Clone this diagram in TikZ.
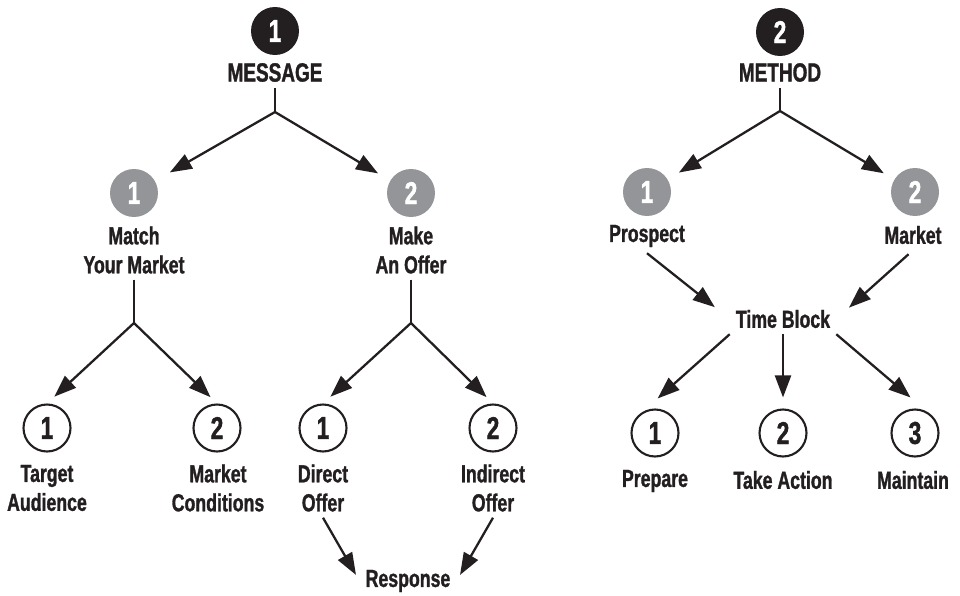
\documentclass[tikz,border=0pt]{standalone}
\usepackage{fontspec}
\setmainfont{Liberation Sans}[FakeStretch=0.72, BoldFeatures={FakeBold=1.2}]
\usetikzlibrary{arrows.meta}
\definecolor{ink}{HTML}{231F20}
\definecolor{stone}{HTML}{939598}
\tikzstyle{lead} = [circle, minimum size=0.96cm, inner sep=0pt, fill=ink, text=white, font=\bfseries\fontsize{18}{18}\selectfont]
\tikzstyle{sub} = [lead, fill=stone]
\tikzstyle{ring} = [circle, minimum size=0.94cm, inner sep=0pt, draw=ink, line width=1.2pt, text=ink, font=\bfseries\fontsize{18}{18}\selectfont]
\tikzstyle{word} = [align=center, text=ink, font=\bfseries\fontsize{14}{16.5}\selectfont]
\tikzstyle{heading} = [word, font=\bfseries\fontsize{15}{15}\selectfont]
\tikzstyle{stem} = [draw=ink, line width=1.3pt]
\tikzstyle{flow} = [stem, -{Triangle[length=0.44cm, width=0.32cm]}]

\begin{document}
\begin{tikzpicture}[x=0.02cm, y=-0.02cm]
    \useasboundingbox (0,0) rectangle (960,595);
    \node (h1) [lead] at (275,31) {1};
    \node (msg) [heading] at (275,72.5) {MESSAGE};
    \coordinate (j1) at (275,112);
    \node (m1) [sub] at (134,193) {1};
    \node (m2) [sub] at (411,193) {2};
    \node (match) [word] at (134,250) {Match\\Your Market};
    \node (offer) [word] at (411,250) {Make\\An Offer};
    \coordinate (j2) at (134,323);
    \coordinate (j3) at (411,323);
    \node (t1) [ring] at (47,428) {1};
    \node (t2) [ring] at (217,428) {2};
    \node (d1) [ring] at (323,428) {1};
    \node (d2) [ring] at (493,428) {2};
    \node (target) [word] at (47,488) {Target\\Audience};
    \node (cond) [word] at (218,488) {Market\\Conditions};
    \node (direct) [word] at (323,488) {Direct\\Offer};
    \node (indirect) [word] at (493,488) {Indirect\\Offer};
    \node (resp) [word] at (408,581) {Response};
    \draw [stem] (msg.south) -- (j1);
    \draw [flow, shorten >=0.34cm] (j1) -- (m1);
    \draw [flow, shorten >=0.28cm] (j1) -- (m2);
    \draw [stem] (match.south) -- (j2);
    \draw [stem] (offer.south) -- (j3);
    \draw [flow, shorten >=0.2cm] (j2) -- (t1.north);
    \draw [flow, shorten >=0.18cm] (j2) -- (t2.north);
    \draw [flow, shorten >=0.2cm] (j3) -- (d1.north);
    \draw [flow, shorten >=0.18cm] (j3) -- (d2.north);
    \draw [flow, shorten >=0.14cm] (direct.south) -- (resp.west);
    \draw [flow, shorten >=0.14cm] (indirect.south) -- (resp.east);

    \node (h2) [lead] at (780,32) {2};
    \node (meth) [heading] at (780,72.5) {METHOD};
    \coordinate (j4) at (780,111);
    \node (pr) [sub] at (647,192) {1};
    \node (mk) [sub] at (915,192) {2};
    \node (prospect) [word] at (647,236) {Prospect};
    \node (market) [word] at (913,235) {Market};
    \node (block) [word] at (783,319) {Time Block};
    \node (p1) [ring] at (655,433) {1};
    \node (p2) [ring] at (783,433) {2};
    \node (p3) [ring] at (915,433) {3};
    \node (prep) [word] at (655,481) {Prepare};
    \node (act) [word] at (783,480) {Take Action};
    \node (keep) [word] at (913,480) {Maintain};
    \draw [stem] (meth.south) -- (j4);
    \draw [flow, shorten >=0.26cm] (j4) -- (pr);
    \draw [flow, shorten >=0.24cm] (j4) -- (mk);
    \draw [flow, shorten >=0.38cm] (prospect.south) -- (block.west);
    \draw [flow, shorten <=0.12cm, shorten >=0.34cm] (market.south) -- (block.east);
    \draw [flow, shorten >=0.4cm] (block.south west) -- (p1.120);
    \draw [flow, shorten >=0.22cm] (block.south) -- (p2.north);
    \draw [flow, shorten >=0.44cm] (block.south east) -- (p3.60);
\end{tikzpicture}
\end{document}
